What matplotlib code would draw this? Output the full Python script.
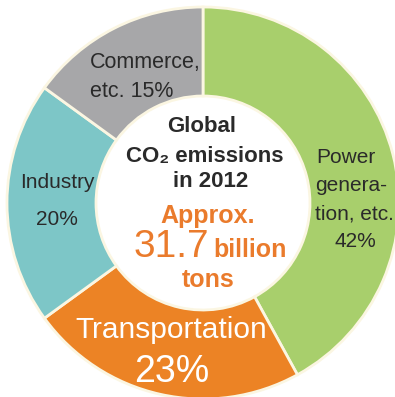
import matplotlib
matplotlib.use("Agg")
import matplotlib.pyplot as plt

# Sector shares of global CO2 emissions, 2012 (%)
sectors = ["Power generation, etc.", "Transportation", "Industry", "Commerce, etc."]
shares = [42, 23, 20, 15]
colors = ["#a8cf6c", "#ec8325", "#7dc6c7", "#a7a7a9"]
total_emissions = "31.7"

W, H = 395, 397
fig = plt.figure(figsize=(W / 100, H / 100), dpi=100)
ax = fig.add_axes([0, 0, 1, 1])
ax.axis("off")

cx, cy = 203, H - 203
r_out, r_in = 196, 107

ax.pie(shares, colors=colors, startangle=90, counterclock=False,
       center=(cx, cy), radius=r_out, frame=True,
       wedgeprops=dict(width=r_out - r_in, edgecolor="#fbf6e2", linewidth=2))
ax.set_xlim(0, W)
ax.set_ylim(0, H)
ax.set_aspect("equal")
ax.axis("off")

FAM = ["Liberation Sans", "DejaVu Sans"]
DARK = "#2a2a2a"
ORANGE = "#ea7b2c"


def put(x, y, s, size, color=DARK, weight="normal", ha="center"):
    ax.text(x, H - y, s, fontsize=size, color=color, fontweight=weight,
            ha=ha, va="baseline", family=FAM)


# segment labels
put(90, 68, "Commerce,", 15.5, ha="left")
put(90, 97, f"etc. {shares[3]}%", 15.5, ha="left")

put(57, 188, "Industry", 15)
put(57, 225, f"{shares[2]}%", 15)

put(316, 163, "Power", 15, ha="left")
put(315, 191, "genera-", 15, ha="left")
put(315, 219, "tion, etc.", 15, ha="left")
put(355, 247, f"{shares[0]}%", 15)

put(171, 338, "Transportation", 21.5, color="white")
put(172, 382, f"{shares[1]}%", 27, color="white")

# centre title
put(202, 132, "Global", 16, weight="bold")
put(205, 162, "CO\u2082 emissions", 16, weight="bold")
put(211, 187, "in 2012", 16, weight="bold")
put(208, 223, "Approx.", 18, color=ORANGE, weight="bold")
put(209, 257, total_emissions, 28, color=ORANGE, ha="right")
put(213, 257, "billion", 18, color=ORANGE, weight="bold", ha="left")
put(208, 287, "tons", 18, color=ORANGE, weight="bold")

fig.savefig("out.png", dpi=100, facecolor="white")
